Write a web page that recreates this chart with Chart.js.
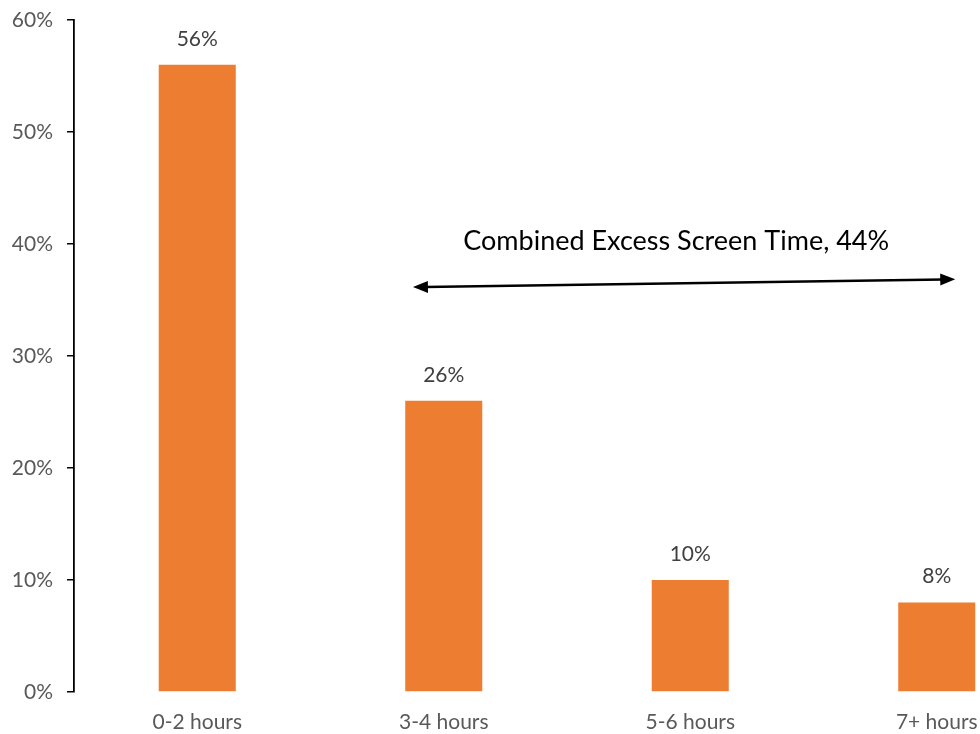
<!DOCTYPE html>
<html>
<head>
<meta charset="utf-8">
<script src="https://cdn.jsdelivr.net/npm/chart.js@4.4.1/dist/chart.umd.min.js"></script>
<style>
  html, body { margin: 0; padding: 0; background: #fff; overflow: hidden; }
  #wrap { width: 980px; height: 734px; overflow: hidden; position: relative; }
  canvas { display: block; }
</style>
</head>
<body>
<div id="wrap"><canvas id="chart" width="1060" height="734"></canvas></div>
<script>
// Daily screen time distribution
const categories = ['0-2 hours', '3-4 hours', '5-6 hours', '7+ hours'];
const shares = [56, 26, 10, 8];
const yTicks = [0, 10, 20, 30, 40, 50, 60];

// Categories counted as excess screen time
const excessFrom = 1;
const excessTo = 3;
const excessTotal = shares.slice(excessFrom, excessTo + 1).reduce((a, b) => a + b, 0);
const excessLabel = 'Combined Excess Screen Time, ' + excessTotal + '%';

const FONT = 'Lato, "Open Sans", sans-serif';

// Value labels above each bar
const valueLabels = {
  id: 'valueLabels',
  afterDatasetsDraw(chart) {
    const ctx = chart.ctx;
    const meta = chart.getDatasetMeta(0);
    ctx.save();
    ctx.font = '21px ' + FONT;
    ctx.fillStyle = '#404040';
    ctx.textAlign = 'center';
    ctx.textBaseline = 'alphabetic';
    meta.data.forEach((bar, i) => {
      ctx.fillText(Math.round(shares[i]) + '%', bar.x, bar.y - 19);
    });
    ctx.restore();
  }
};

// Double-headed arrow spanning the excess categories, with its caption
const excessArrow = {
  id: 'excessArrow',
  afterDraw(chart) {
    const { ctx, scales: { x, y } } = chart;
    const x1 = x.getPixelForValue(excessFrom - 0.125);
    const x2 = x.getPixelForValue(excessTo + 0.075);
    const y1 = y.getPixelForValue(36.15);
    const y2 = y.getPixelForValue(36.85);
    const head = 15, half = 6;
    const ang = Math.atan2(y2 - y1, x2 - x1);
    ctx.save();
    ctx.strokeStyle = '#000';
    ctx.fillStyle = '#000';
    ctx.lineWidth = 2.5;
    ctx.beginPath();
    ctx.moveTo(x1 + Math.cos(ang) * head * 0.8, y1 + Math.sin(ang) * head * 0.8);
    ctx.lineTo(x2 - Math.cos(ang) * head * 0.8, y2 - Math.sin(ang) * head * 0.8);
    ctx.stroke();
    const drawHead = (px, py, a) => {
      ctx.beginPath();
      ctx.moveTo(px, py);
      ctx.lineTo(px - Math.cos(a) * head - Math.sin(a) * half, py - Math.sin(a) * head + Math.cos(a) * half);
      ctx.lineTo(px - Math.cos(a) * head + Math.sin(a) * half, py - Math.sin(a) * head - Math.cos(a) * half);
      ctx.closePath();
      ctx.fill();
    };
    drawHead(x2, y2, ang);
    drawHead(x1, y1, ang + Math.PI);

    ctx.font = '27px ' + FONT;
    ctx.textAlign = 'center';
    ctx.textBaseline = 'alphabetic';
    ctx.fillText(excessLabel, x.getPixelForValue(1.943), y.getPixelForValue(39.45));
    ctx.restore();
  }
};

new Chart(document.getElementById('chart'), {
  type: 'bar',
  data: {
    labels: categories,
    datasets: [{
      data: shares,
      backgroundColor: '#ED7D31',
      borderWidth: 0,
      categoryPercentage: 1,
      barPercentage: 0.3125
    }]
  },
  options: {
    responsive: false,
    devicePixelRatio: 1,
    animation: false,
    layout: { padding: { top: 20, right: 0, left: 0, bottom: 0 } },
    plugins: {
      legend: { display: false },
      tooltip: { enabled: false }
    },
    scales: {
      x: {
        grid: { display: false },
        border: { display: false },
        ticks: {
          color: '#595959',
          font: { family: FONT, size: 21 },
          padding: 10,
          maxRotation: 0
        },
        afterFit(scale) { scale.height = 42; }
      },
      y: {
        min: 0,
        max: 60,
        afterBuildTicks(scale) { scale.ticks = yTicks.map(v => ({ value: v })); },
        grid: {
          display: true,
          drawOnChartArea: false,
          drawTicks: true,
          tickLength: 7,
          color: '#000',
          lineWidth: 1.5
        },
        border: { display: true, color: '#000', width: 1.8 },
        ticks: {
          color: '#595959',
          font: { family: FONT, size: 21 },
          padding: 14,
          callback: v => v + '%'
        },
        afterFit(scale) {
          scale.width = 74;
          scale.paddingTop = 0;
          scale.paddingBottom = 0;
        }
      }
    }
  },
  plugins: [valueLabels, excessArrow]
});
</script>
</body>
</html>
